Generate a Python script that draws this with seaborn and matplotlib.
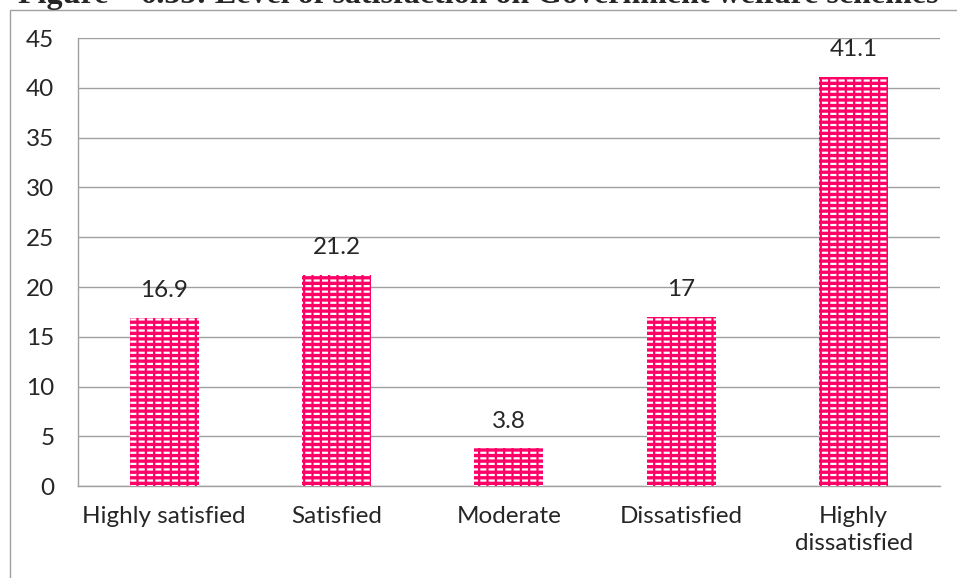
import matplotlib
matplotlib.use("Agg")
import matplotlib.pyplot as plt
from matplotlib.patches import Rectangle
import seaborn as sns
import pandas as pd
import numpy as np

categories = ["Highly satisfied", "Satisfied", "Moderate", "Dissatisfied", "Highly\ndissatisfied"]
values = [16.9, 21.2, 3.8, 17, 41.1]
value_labels = ["16.9", "21.2", "3.8", "17", "41.1"]
y_ticks = [0, 5, 10, 15, 20, 25, 30, 35, 40, 45]
title = "Figure – 6.35: Level of satisfaction on Government welfare schemes"

sns.set_style("white")
plt.rcParams["font.family"] = ["Lato", "DejaVu Sans"]
plt.rcParams["hatch.linewidth"] = 1.6

df = pd.DataFrame({"category": categories, "value": values})

fig = plt.figure(figsize=(9.57, 5.78), dpi=100)
ax = fig.add_axes([0.0815, 0.159, 0.9005, 0.775])

bar_color = "#FF0066"
sns.barplot(data=df, x="category", y="value", ax=ax, color=bar_color,
            width=0.40, saturation=1, zorder=3)

# white dashed fill: horizontal white hatch broken up by vertical pink hatch
for p in list(ax.patches):
    p.set_facecolor(bar_color)
    p.set_edgecolor("white")
    p.set_linewidth(0)
    p.set_hatch("---")
    breaker = Rectangle(p.get_xy(), p.get_width(), p.get_height(),
                        fill=False, edgecolor=bar_color, linewidth=0,
                        hatch="||", zorder=3.5)
    ax.add_patch(breaker)

n = len(categories)
fs = 17.5
ax.set_xlim(-0.5, n - 0.5)
ax.set_ylim(0, 45)
ax.set_yticks(y_ticks)
ax.set_yticklabels([str(t) for t in y_ticks], fontsize=fs)
ax.set_xlabel("")
ax.set_ylabel("")

# category labels centred under bars, tick marks on category boundaries
ax.set_xticks(range(n))
ax.set_xticklabels(categories, fontsize=fs, linespacing=1.4, va="top")
ax.tick_params(axis="x", length=0, pad=14)
ax.set_xticks(np.arange(-0.5, n, 1.0), minor=True)
ax.tick_params(axis="x", which="minor", length=6, width=1, color="#A0A0A0", direction="out")
ax.tick_params(axis="y", length=6, width=1, color="#A0A0A0", direction="out", pad=11)

ax.yaxis.grid(True, color="#A0A0A0", linewidth=1, zorder=0)
ax.set_axisbelow(True)
for side in ["top", "right"]:
    ax.spines[side].set_visible(False)
for side in ["left", "bottom"]:
    ax.spines[side].set_color("#A0A0A0")
    ax.spines[side].set_linewidth(1)

for i, (v, lab) in enumerate(zip(values, value_labels)):
    ax.annotate(lab, (i, v), xytext=(0, 12), textcoords="offset points",
                ha="center", va="bottom", fontsize=fs)

# chart area border
fig.patches.append(Rectangle((10 / 957, -0.05), 1.0, 1.05 - 10 / 578,
                             transform=fig.transFigure, fill=False,
                             edgecolor="#A0A0A0", linewidth=1, clip_on=False))

fig.text(0.5, 1.0 + 4 / 578, title, ha="center", va="center",
         fontsize=23, fontweight="bold", family=["Liberation Serif", "DejaVu Serif"])

fig.savefig("out.png", dpi=100)
